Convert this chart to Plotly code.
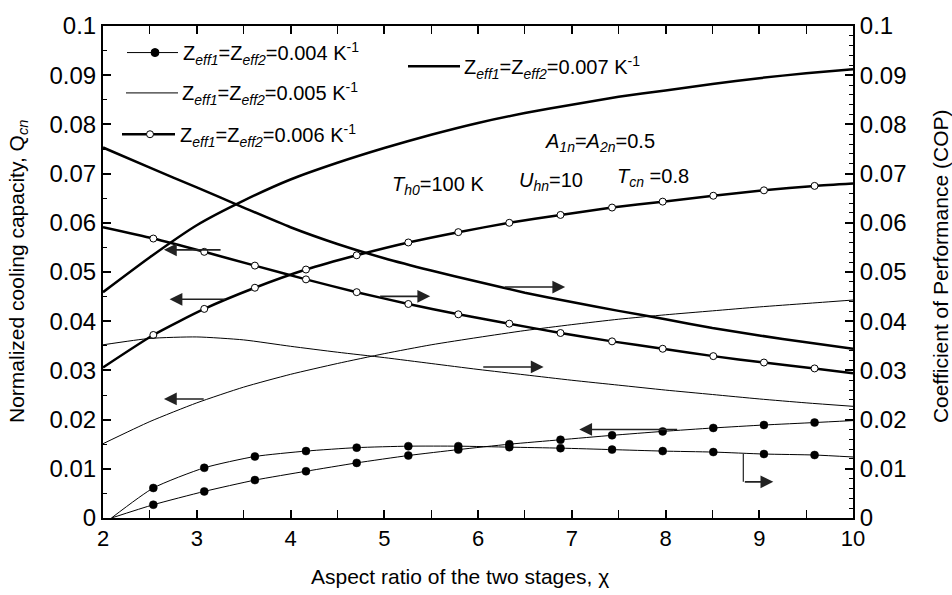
import plotly.graph_objects as go

# ---------------- data ----------------
chi_grid = [2, 2.5, 3, 3.5, 4, 4.5, 5, 5.5, 6, 6.5, 7, 7.5, 8, 8.5, 9, 9.5, 10]
chi_mk = [2.537, 3.08, 3.62, 4.165, 4.706, 5.257, 5.79, 6.334, 6.88, 7.43, 7.97, 8.51, 9.05, 9.59]

# Z = 0.004 K^-1 (filled markers)
chi_004 = [2.09] + chi_mk + [10]
q_004 = [0, 0.0027, 0.0054, 0.0077, 0.0095, 0.0112, 0.0127, 0.0139, 0.0150, 0.0159,
         0.0168, 0.0176, 0.0183, 0.0189, 0.0194, 0.0198]
cop_004 = [0, 0.0061, 0.0102, 0.0125, 0.0136, 0.0143, 0.0146, 0.0146, 0.0144, 0.0142,
           0.0139, 0.0136, 0.0134, 0.0130, 0.0128, 0.0124]

# Z = 0.005 K^-1 (thin line)
q_005 = [0.0151, 0.0196, 0.0234, 0.0266, 0.0292, 0.0314, 0.0334, 0.0352, 0.0367, 0.0381,
         0.0393, 0.0404, 0.0413, 0.0421, 0.0429, 0.0436, 0.0443]
cop_005 = [0.0352, 0.0365, 0.0368, 0.0362, 0.0349, 0.0337, 0.0326, 0.0314, 0.0302, 0.0291,
           0.0280, 0.0270, 0.0260, 0.0251, 0.0242, 0.0234, 0.0227]

# Z = 0.006 K^-1 (open markers)
chi_006 = [2] + chi_mk + [10]
q_006 = [0.0306, 0.0372, 0.0425, 0.0468, 0.0505, 0.0534, 0.0560, 0.0581, 0.0600, 0.0616,
         0.0631, 0.0643, 0.0655, 0.0666, 0.0675, 0.0680]
cop_006 = [0.0591, 0.0568, 0.0541, 0.0513, 0.0485, 0.0459, 0.0435, 0.0414, 0.0395, 0.0376,
           0.0359, 0.0344, 0.0329, 0.0316, 0.0304, 0.0294]

# Z = 0.007 K^-1 (thick line)
q_007 = [0.0459, 0.0530, 0.0595, 0.0645, 0.0688, 0.0722, 0.0752, 0.0779, 0.0803, 0.0823,
         0.0840, 0.0856, 0.0869, 0.0882, 0.0894, 0.0904, 0.0912]
cop_007 = [0.0753, 0.0712, 0.0672, 0.0631, 0.0591, 0.0557, 0.0528, 0.0503, 0.0480, 0.0458,
           0.0439, 0.0421, 0.0404, 0.0386, 0.0371, 0.0357, 0.0344]

# axis-indicator arrows: (head_x, tail_x, y)
arrows_left = [(2.65, 3.27, 0.0545), (2.71, 3.32, 0.04445), (2.65, 3.09, 0.0242), (7.08, 8.14, 0.0180)]
arrows_right = [(5.49, 4.94, 0.04505), (6.93, 6.27, 0.04694), (6.70, 6.04, 0.0307)]
bent_arrow = (8.83, 0.0130, 0.00735, 9.15)

x_ticks = [2, 3, 4, 5, 6, 7, 8, 9, 10]
y_ticks = [0, 0.01, 0.02, 0.03, 0.04, 0.05, 0.06, 0.07, 0.08, 0.09, 0.1]

FONT = "Liberation Sans, Arial, sans-serif"
BLACK = "#000000"

# ---------------- figure ----------------
fig = go.Figure()

def mk_sizes(n, s):
    return [0] + [s] * (n - 2) + [0]

# 0.004 curves: thin line + filled markers
for yv, ax in [(q_004, "y"), (cop_004, "y2")]:
    fig.add_trace(go.Scatter(
        x=chi_004, y=yv, yaxis=ax, mode="lines+markers",
        line=dict(color=BLACK, width=1, shape="spline", smoothing=0.6),
        marker=dict(symbol="circle", size=mk_sizes(len(chi_004), 8), color=BLACK,
                    opacity=1, line=dict(color=BLACK, width=0.5)),
        showlegend=False, hoverinfo="skip"))

# 0.005 curves: thin line
for yv, ax in [(q_005, "y"), (cop_005, "y2")]:
    fig.add_trace(go.Scatter(
        x=chi_grid, y=yv, yaxis=ax, mode="lines",
        line=dict(color=BLACK, width=1, shape="spline", smoothing=0.6),
        showlegend=False, hoverinfo="skip"))

# 0.006 curves: thick line + open markers
for yv, ax in [(q_006, "y"), (cop_006, "y2")]:
    fig.add_trace(go.Scatter(
        x=chi_006, y=yv, yaxis=ax, mode="lines+markers",
        line=dict(color=BLACK, width=2.5, shape="spline", smoothing=0.6),
        marker=dict(symbol="circle", size=mk_sizes(len(chi_006), 7), color="white",
                    opacity=1, line=dict(color=BLACK, width=1)),
        showlegend=False, hoverinfo="skip"))

# 0.007 curves: thick line
for yv, ax in [(q_007, "y"), (cop_007, "y2")]:
    fig.add_trace(go.Scatter(
        x=chi_grid, y=yv, yaxis=ax, mode="lines",
        line=dict(color=BLACK, width=2.5, shape="spline", smoothing=0.6),
        showlegend=False, hoverinfo="skip"))

# ---------------- pixel helpers for decorations ----------------
L, R, T, B = 103, 853, 18, 518
def px(xp):
    return (xp - L) / (R - L)
def py(yp):
    return (B - yp) / (B - T)

shapes = []
annotations = []

def zlabel(val):
    return ("Z<sub><i>eff1</i></sub>=Z<sub><i>eff2</i></sub>=" + val +
            " K<sup>-1</sup>")

legend_items = [
    # (line x0, x1, y, width, marker, marker x, text x, value)
    (127, 178, 45, 1, "filled", 155, 181, "0.004"),
    (126, 178, 86, 1, None, None, 180, "0.005"),
    (122, 175, 128, 2.5, "open", 150, 178, "0.006"),
    (408, 460, 59, 2.5, None, None, 462, "0.007"),
]
for x0, x1, yy, w, mk, mx, tx, val in legend_items:
    shapes.append(dict(type="line", xref="paper", yref="paper",
                       x0=px(x0), x1=px(x1), y0=py(yy), y1=py(yy),
                       line=dict(color=BLACK, width=w)))
    if mk:
        r = 4 if mk == "filled" else 3.5
        shapes.append(dict(type="circle", xref="paper", yref="paper",
                           xsizemode="pixel", ysizemode="pixel",
                           xanchor=px(mx), yanchor=py(yy),
                           x0=-r, x1=r, y0=-r, y1=r,
                           fillcolor=BLACK if mk == "filled" else "white",
                           line=dict(color=BLACK, width=1)))
    annotations.append(dict(xref="paper", yref="paper", x=px(tx), y=py(yy + 1),
                            xanchor="left", yanchor="middle", showarrow=False,
                            text=zlabel(val), font=dict(family=FONT, size=20, color=BLACK)))

params = [
    ("<i>A<sub>1n</sub></i>=<i>A<sub>2n</sub></i>=0.5", 543, 136),
    ("<i>T<sub>h0</sub></i>=100 K", 390, 180),
    ("<i>U<sub>hn</sub></i>=10", 517, 176),
    ("<i>T<sub>cn</sub></i> =0.8", 615, 172),
]
for txt, tx, ty in params:
    annotations.append(dict(xref="paper", yref="paper", x=px(tx), y=py(ty),
                            xanchor="left", yanchor="middle", showarrow=False,
                            text=txt, font=dict(family=FONT, size=20, color=BLACK)))

ARW = "#222222"
for hx, tx, yy in arrows_left + arrows_right:
    annotations.append(dict(x=hx, y=yy, ax=tx, ay=yy, xref="x", yref="y",
                            axref="x", ayref="y", text="", showarrow=True,
                            arrowhead=2, arrowsize=1.6, arrowwidth=1.6, arrowcolor=ARW))
bx, by0, by1, bhx = bent_arrow
shapes.append(dict(type="line", xref="x", yref="y", x0=bx, x1=bx, y0=by0, y1=by1,
                   line=dict(color=ARW, width=1.2)))
annotations.append(dict(x=bhx, y=by1, ax=bx, ay=by1, xref="x", yref="y",
                        axref="x", ayref="y", text="", showarrow=True,
                        arrowhead=2, arrowsize=1.6, arrowwidth=1.6, arrowcolor=ARW))

# axis titles
annotations.append(dict(xref="paper", yref="paper", x=px(18), y=py(268),
                        xanchor="center", yanchor="middle", textangle=-90, showarrow=False,
                        text="Normalized cooling capacity, Q<sub><i>cn</i></sub>",
                        font=dict(family=FONT, size=21, color=BLACK)))
annotations.append(dict(xref="paper", yref="paper", x=px(940), y=py(262),
                        xanchor="center", yanchor="middle", textangle=-90, showarrow=False,
                        text="Coefficient of Performance (COP)",
                        font=dict(family=FONT, size=21, color=BLACK)))
annotations.append(dict(xref="paper", yref="paper", x=px(460), y=py(577),
                        xanchor="center", yanchor="middle", showarrow=False,
                        text="Aspect ratio of the two stages, χ",
                        font=dict(family=FONT, size=21, color=BLACK)))

axis_common = dict(showline=True, linecolor=BLACK, linewidth=2, showgrid=False,
                   zeroline=False, ticks="inside", tickcolor=BLACK, tickwidth=1.5,
                   ticklen=8)

fig.update_layout(
    width=952, height=595,
    margin=dict(l=L, r=952 - R, t=T, b=595 - B),
    paper_bgcolor="white", plot_bgcolor="white",
    font=dict(family=FONT, color=BLACK),
    showlegend=False,
    xaxis=dict(range=[2, 10], tickvals=x_ticks, mirror="allticks",
               tickfont=dict(size=22, family=FONT),
               minor=dict(dtick=0.5, ticks="inside", ticklen=4, tickcolor=BLACK, tickwidth=1.2),
               **axis_common),
    yaxis=dict(range=[0, 0.1], tickvals=y_ticks, ticktext=[str(v) for v in y_ticks],
               tickfont=dict(size=24, family=FONT),
               minor=dict(dtick=0.005, ticks="inside", ticklen=4, tickcolor=BLACK, tickwidth=1.2),
               **axis_common),
    yaxis2=dict(range=[0, 0.1], overlaying="y", side="right", tickvals=y_ticks,
                ticktext=[str(v) for v in y_ticks],
                tickfont=dict(size=24, family=FONT),
                minor=dict(dtick=0.002, ticks="inside", ticklen=4, tickcolor=BLACK, tickwidth=1.2),
                **axis_common),
    shapes=shapes,
    annotations=annotations,
)

fig.write_html("out.html")
